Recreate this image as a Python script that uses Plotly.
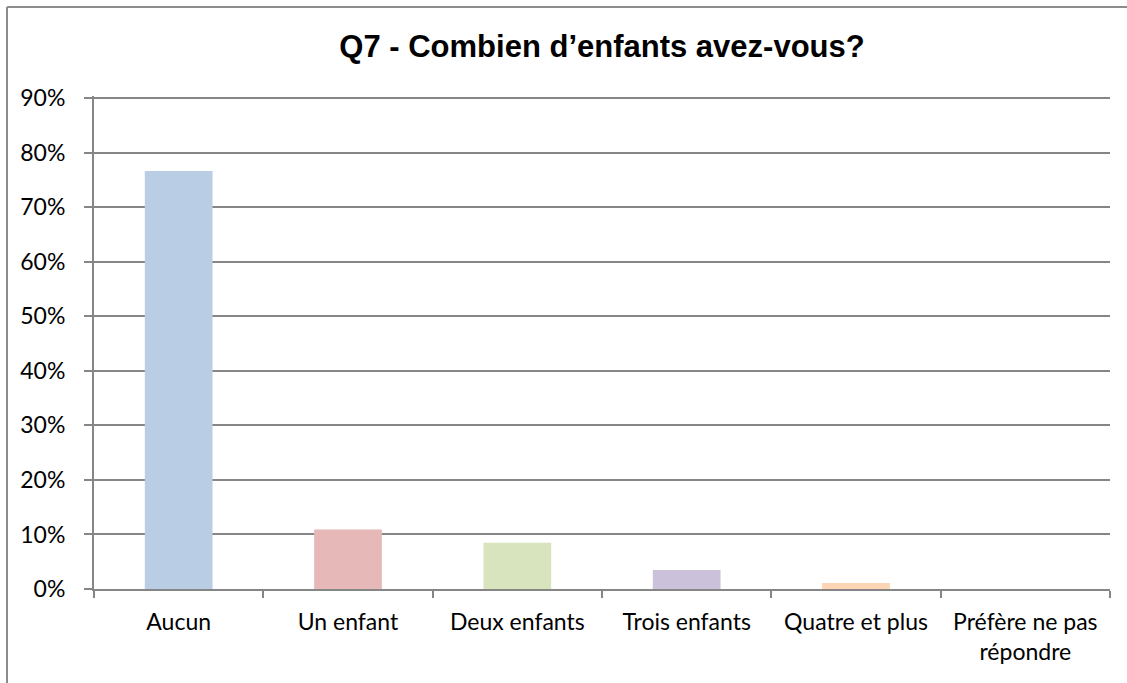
import plotly.graph_objects as go

categories = ["Aucun", "Un enfant", "Deux enfants", "Trois enfants", "Quatre et plus", "Préfère ne pas<br>répondre"]
values = [0.766, 0.109, 0.085, 0.035, 0.011, 0.0]
colors = ["#B9CDE5", "#E6B9B8", "#D7E4BD", "#CCC1DA", "#FCD5B5", "#B7DEE8"]
y_ticks = [0, 0.1, 0.2, 0.3, 0.4, 0.5, 0.6, 0.7, 0.8, 0.9]
y_labels = ["0%", "10%", "20%", "30%", "40%", "50%", "60%", "70%", "80%", "90%"]

W, H = 1127, 683
L, R, T, B = 94, 17, 96, 94
pw, ph = W - L - R, H - T - B

fig = go.Figure(go.Bar(x=categories, y=values, marker=dict(color=colors, line=dict(width=0)),
                       hoverinfo="x+y"))

grid = "#868686"
tickfont = dict(family="Lato, Calibri, sans-serif", size=23, color="black")
fig.update_layout(
    width=W, height=H,
    margin=dict(l=L, r=R, t=T, b=B),
    paper_bgcolor="white", plot_bgcolor="rgba(0,0,0,0)",
    bargap=0.6,
    showlegend=False,
    title=dict(text="<b>Q7 - Combien d’enfants avez-vous?</b>", x=0.5, xref="paper",
               xanchor="center", y=1 - 46 / H, yanchor="middle",
               font=dict(family="Liberation Sans, Arial", size=31, color="black")),
    font=tickfont,
    xaxis=dict(showline=True, linecolor=grid, linewidth=2, ticks="outside", tickson="boundaries",
               ticklen=7, tickcolor=grid, tickwidth=2, showgrid=False,
               ticklabelstandoff=11, tickfont=tickfont),
    yaxis=dict(range=[0, 0.9037], tickvals=y_ticks, ticktext=y_labels, showgrid=True,
               gridcolor=grid, gridwidth=1.5, showline=True, linecolor=grid, linewidth=2,
               ticks="outside", ticklen=8, tickcolor=grid, tickwidth=1.5, zeroline=False,
               ticklabelstandoff=14, tickfont=tickfont),
)

# outer chart frame (top and left edges visible)
frame = "#8C8C8C"
x_left = (7 - L) / pw
x_right = (W + 5 - L) / pw
y_top = (H - B - 7) / ph
y_bottom = (H - B - H - 10) / ph
fig.add_shape(type="line", xref="paper", yref="paper", x0=x_left, x1=x_right, y0=y_top, y1=y_top,
              line=dict(color=frame, width=2))
fig.add_shape(type="line", xref="paper", yref="paper", x0=x_left, x1=x_left, y0=y_bottom, y1=y_top,
              line=dict(color=frame, width=2))

fig.write_html("out.html", config={"displayModeBar": False},
               post_script="document.body.style.margin='0';document.body.style.overflow='hidden';")
